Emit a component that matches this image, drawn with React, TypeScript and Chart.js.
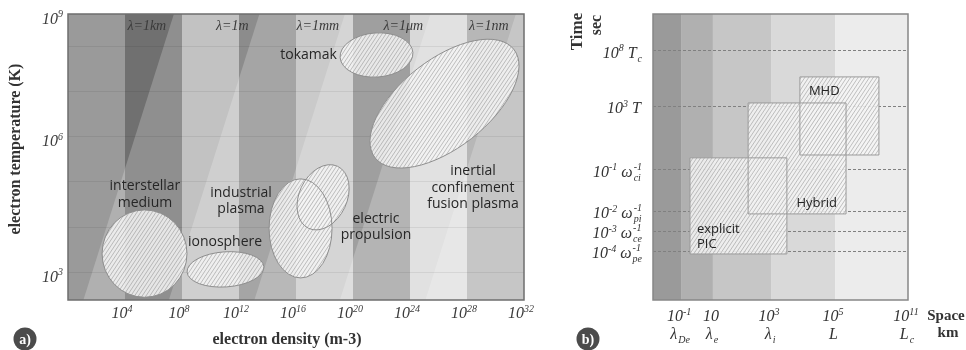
import React, { useEffect, useRef } from 'react';
import { Chart, registerables } from 'chart.js';

Chart.register(...registerables);

const SERIF = '"Liberation Serif", "Times New Roman", serif';
const SANS = '"Open Sans", "Noto Sans", sans-serif';

// ---------- panel a) electron density vs electron temperature ----------
const densityLogMin = 0; // log10 m^-3
const densityLogMax = 32;
const tempLogMin = 2.38; // log10 K
const tempLogMax = 8.73;
const densityTickExps = [4, 8, 12, 16, 20, 24, 28, 32];
const tempTickExps = [3, 6, 9];
const tempGridExps = [3, 4, 5, 6, 7, 8];

// vertical bands, one per four decades of density (grey level before Debye shading)
const densityBandEdges = [0, 4, 8, 12, 16, 20, 24, 28, 32];
const densityBandGreys = [154, 112, 177, 108, 168, 55, 177, 62];

// lines of constant Debye length: log10 T = log10 n + offset
const debyeLabels = ['λ=1km', 'λ=1m', 'λ=1mm', 'λ=1μm', 'λ=1nm'];
const debyeOffsets = [1.3, -4.7, -10.7, -16.7, -22.7];

// plasma regimes: centre (log10 n, log10 T), half extent in decades, tilt in degrees
const regimeLogN = [5.37, 11.05, 16.32, 17.9, 21.65, 26.42];
const regimeLogT = [3.41, 3.06, 3.97, 4.66, 7.82, 6.74];
const regimeHalfN = [2.98, 2.7, 2.21, 1.68, 2.56, 6.18];
const regimeHalfT = [0.97, 0.39, 1.1, 0.76, 0.49, 0.98];
const regimeTilt = [0, -4, 0, 25, -4, -38];

// regime names and where they are written (log10 n, log10 T)
const regimeNames = [
  ['interstellar', 'medium'],
  ['ionosphere'],
  ['industrial', 'plasma'],
  ['electric', 'propulsion'],
  ['tokamak'],
  ['inertial', 'confinement', 'fusion plasma'],
];
const nameLogN = [5.4, 11.02, 12.14, 21.61, 16.88, 28.42];
const nameLogT = [4.72, 3.67, 4.58, 4.0, 7.82, 4.87];

// ---------- panel b) time scales vs space scales ----------
const spaceMin = 0;
const spaceMax = 10;
const timeMin = 0;
const timeMax = 10;
const spaceTickPos = [1.1, 2.35, 4.63, 7.14, 10];
const spaceTickExp = ['-1', '', '3', '5', '11'];
const spaceTickSym = ['λ', 'λ', 'λ', 'L', 'L'];
const spaceTickSub = ['De', 'e', 'i', '', 'c'];
const spaceBandEdges = [0, 1.1, 2.35, 4.63, 7.14, 10];
const spaceBandGreys = [154, 176, 198, 217, 236];

const timeTickPos = [8.71, 6.78, 4.55, 3.11, 2.41, 1.71];
const timeTickExp = ['8', '3', '-1', '-2', '-3', '-4'];
const timeTickSym = ['T', 'T', 'ω', 'ω', 'ω', 'ω'];
const timeTickSub = ['c', '', 'ci', 'pi', 'ce', 'pe'];
const timeTickSup = ['', '', '-1', '-1', '-1', '-1'];

const modelNames = [['explicit', 'PIC'], ['Hybrid'], ['MHD']];
const modelSpaceFrom = [1.45, 3.73, 5.76];
const modelSpaceTo = [5.25, 7.57, 8.86];
const modelTimeFrom = [1.61, 3.01, 5.07];
const modelTimeTo = [4.97, 6.89, 7.8];
const modelLabelCorner = ['bottom-left', 'bottom-right', 'top-left'];

// ---------- text helpers ----------
type Seg = { text?: string; sup?: string; sub?: string; size: number; dy?: number; gap?: number };

function segWidth(ctx: CanvasRenderingContext2D, s: Seg) {
  ctx.font = `italic ${s.size}px ${SERIF}`;
  const w =
    s.text !== undefined
      ? ctx.measureText(s.text).width
      : Math.max(ctx.measureText(s.sup || '').width, ctx.measureText(s.sub || '').width);
  return w + (s.gap || 0);
}

function drawRich(
  ctx: CanvasRenderingContext2D,
  segs: Seg[],
  x: number,
  y: number,
  align: 'left' | 'center' | 'right',
  color: string
) {
  const widths = segs.map((s) => segWidth(ctx, s));
  const total = widths.reduce((a, b) => a + b, 0);
  let cx = align === 'left' ? x : align === 'right' ? x - total : x - total / 2;
  ctx.save();
  ctx.fillStyle = color;
  ctx.textAlign = 'left';
  ctx.textBaseline = 'alphabetic';
  segs.forEach((s, i) => {
    ctx.font = `italic ${s.size}px ${SERIF}`;
    if (s.text !== undefined) {
      ctx.fillText(s.text, cx, y + (s.dy || 0));
    } else {
      if (s.sup) ctx.fillText(s.sup, cx, y - 7);
      if (s.sub) ctx.fillText(s.sub, cx, y + 4);
    }
    cx += widths[i];
  });
  ctx.restore();
}

function power(exp: string, gap = 0): Seg[] {
  if (!exp) return [{ text: '10', size: 16, gap }];
  return [
    { text: '10', size: 16 },
    { text: exp, size: 10, dy: -6.5, gap },
  ];
}

function hatch(
  ctx: CanvasRenderingContext2D,
  path: () => void,
  x0: number,
  y0: number,
  x1: number,
  y1: number,
  phase: number
) {
  ctx.save();
  path();
  ctx.fillStyle = 'rgba(245,245,245,0.86)';
  ctx.fill();
  path();
  ctx.clip();
  ctx.strokeStyle = 'rgba(128,128,128,0.62)';
  ctx.lineWidth = 0.75;
  const step = 3.8;
  const run = (y1 - y0) * 0.68;
  const start = Math.floor((x0 - run) / step) * step - step + phase;
  ctx.beginPath();
  for (let x = start; x < x1 + step; x += step) {
    ctx.moveTo(x, y1 + 1);
    ctx.lineTo(x + run, y0 - 1);
  }
  ctx.stroke();
  ctx.restore();
}

function badge(ctx: CanvasRenderingContext2D, x: number, y: number, text: string) {
  ctx.save();
  ctx.fillStyle = '#4b4b4b';
  ctx.beginPath();
  ctx.arc(x, y, 11.5, 0, Math.PI * 2);
  ctx.fill();
  ctx.fillStyle = '#ffffff';
  ctx.font = `bold 14px ${SERIF}`;
  ctx.textAlign = 'center';
  ctx.textBaseline = 'middle';
  ctx.fillText(text, x, y + 1);
  ctx.restore();
}

function grey(g: number) {
  return `rgb(${g},${g},${g})`;
}

// ---------- panel a) plugins ----------
const plasmaBackground = {
  id: 'plasmaBackground',
  beforeDraw(chart: any) {
    const { ctx, chartArea: a } = chart;
    const x = chart.scales.x;
    ctx.save();
    ctx.beginPath();
    ctx.rect(a.left, a.top, a.right - a.left, a.bottom - a.top);
    ctx.clip();
    densityBandGreys.forEach((g, i) => {
      const x0 = x.getPixelForValue(10 ** densityBandEdges[i]);
      const x1 = x.getPixelForValue(10 ** densityBandEdges[i + 1]);
      ctx.fillStyle = grey(g);
      ctx.fillRect(x0, a.top, x1 - x0, a.bottom - a.top);
    });
    // everything on the short-wavelength side of each Debye line is lightened
    ctx.fillStyle = 'rgba(255,255,255,0.22)';
    debyeOffsets.forEach((off) => {
      const xt = x.getPixelForValue(10 ** (tempLogMax - off));
      const xb = x.getPixelForValue(10 ** (tempLogMin - off));
      ctx.beginPath();
      ctx.moveTo(xt, a.top);
      ctx.lineTo(Math.max(a.right, xt) + 1, a.top);
      ctx.lineTo(Math.max(a.right, xt) + 1, a.bottom);
      ctx.lineTo(xb, a.bottom);
      ctx.closePath();
      ctx.fill();
    });
    ctx.restore();
  },
};

const plasmaForeground = {
  id: 'plasmaForeground',
  afterDraw(chart: any) {
    const { ctx, chartArea: a } = chart;
    const x = chart.scales.x;
    const y = chart.scales.y;

    // regime ellipses
    const shapes = regimeLogN.map((ln, i) => {
      const cx = x.getPixelForValue(10 ** ln);
      const rx = x.getPixelForValue(10 ** (ln + regimeHalfN[i])) - cx;
      const cy = y.getPixelForValue(10 ** regimeLogT[i]);
      const ry = cy - y.getPixelForValue(10 ** (regimeLogT[i] + regimeHalfT[i]));
      const rot = (regimeTilt[i] * Math.PI) / 180;
      const path = () => {
        ctx.beginPath();
        ctx.ellipse(cx, cy, rx, ry, rot, 0, Math.PI * 2);
      };
      return { cx, cy, r: Math.max(rx, ry), path };
    });
    shapes.forEach((s, i) => hatch(ctx, s.path, s.cx - s.r, s.cy - s.r, s.cx + s.r, s.cy + s.r, (i * 1.3) % 3.8));
    ctx.save();
    ctx.strokeStyle = '#8e8e8e';
    ctx.lineWidth = 1;
    shapes.forEach((s) => {
      s.path();
      ctx.stroke();
    });
    ctx.restore();

    // Debye length labels along the top
    ctx.save();
    ctx.fillStyle = '#3a3a3a';
    ctx.font = `italic 14px ${SERIF}`;
    ctx.textAlign = 'center';
    ctx.textBaseline = 'alphabetic';
    debyeLabels.forEach((t, i) => {
      const lx = x.getPixelForValue(10 ** (tempLogMax - debyeOffsets[i] - 1.9));
      ctx.fillText(t, lx, a.top + 16);
    });
    ctx.restore();

    // regime names
    ctx.save();
    ctx.fillStyle = '#262626';
    ctx.font = `14px ${SANS}`;
    ctx.textAlign = 'center';
    ctx.textBaseline = 'middle';
    regimeNames.forEach((lines, i) => {
      const lx = x.getPixelForValue(10 ** nameLogN[i]);
      const ly = y.getPixelForValue(10 ** nameLogT[i]);
      const lh = 16.5;
      lines.forEach((t, j) => ctx.fillText(t, lx, ly + (j - (lines.length - 1) / 2) * lh));
    });
    ctx.restore();

    // frame
    ctx.save();
    ctx.strokeStyle = '#6e6e6e';
    ctx.lineWidth = 1.5;
    ctx.strokeRect(a.left, a.top, a.right - a.left, a.bottom - a.top);
    ctx.restore();

    // tick labels
    densityTickExps.forEach((e) => {
      const px = x.getPixelForValue(10 ** e);
      drawRich(ctx, power(String(e)), px - 3, a.bottom + 18, 'center', '#3c3c3c');
    });
    tempTickExps.forEach((e) => {
      const py = Math.max(y.getPixelForValue(10 ** e), a.top);
      drawRich(ctx, power(String(e)), a.left - 5, py + 9.5, 'right', '#3c3c3c');
    });

    // axis titles
    ctx.save();
    ctx.fillStyle = '#333333';
    ctx.font = `bold 16px ${SERIF}`;
    ctx.textAlign = 'center';
    ctx.textBaseline = 'alphabetic';
    ctx.fillText('electron density (m-3)', 287, 344);
    ctx.translate(16, 149);
    ctx.rotate(-Math.PI / 2);
    ctx.textBaseline = 'middle';
    ctx.fillText('electron temperature (K)', 0, 0);
    ctx.restore();

    badge(ctx, 25, 339, 'a)');
  },
};

// ---------- panel b) plugins ----------
const scaleBackground = {
  id: 'scaleBackground',
  beforeDraw(chart: any) {
    const { ctx, chartArea: a } = chart;
    const x = chart.scales.x;
    ctx.save();
    spaceBandGreys.forEach((g, i) => {
      const x0 = x.getPixelForValue(spaceBandEdges[i]);
      const x1 = x.getPixelForValue(spaceBandEdges[i + 1]);
      ctx.fillStyle = grey(g);
      ctx.fillRect(x0, a.top, x1 - x0, a.bottom - a.top);
    });
    ctx.restore();
  },
};

const scaleForeground = {
  id: 'scaleForeground',
  afterDraw(chart: any) {
    const { ctx, chartArea: a } = chart;
    const x = chart.scales.x;
    const y = chart.scales.y;

    const boxes = modelNames.map((_, i) => {
      const x0 = x.getPixelForValue(modelSpaceFrom[i]);
      const x1 = x.getPixelForValue(modelSpaceTo[i]);
      const y0 = y.getPixelForValue(modelTimeTo[i]);
      const y1 = y.getPixelForValue(modelTimeFrom[i]);
      const path = () => {
        ctx.beginPath();
        ctx.rect(x0, y0, x1 - x0, y1 - y0);
      };
      return { x0, x1, y0, y1, path };
    });
    boxes.forEach((b, i) => hatch(ctx, b.path, b.x0, b.y0, b.x1, b.y1, (i * 1.4) % 3.8));
    ctx.save();
    ctx.strokeStyle = '#9a9a9a';
    ctx.lineWidth = 1;
    boxes.forEach((b) => {
      b.path();
      ctx.stroke();
    });
    ctx.restore();

    // model names
    ctx.save();
    ctx.fillStyle = '#222222';
    ctx.font = `13px ${SANS}`;
    ctx.textBaseline = 'alphabetic';
    boxes.forEach((b, i) => {
      const lines = modelNames[i];
      const corner = modelLabelCorner[i];
      const lh = 15;
      lines.forEach((t, j) => {
        if (corner === 'top-left') {
          ctx.textAlign = 'left';
          ctx.fillText(t, b.x0 + 9, b.y0 + 18 + j * lh);
        } else if (corner === 'bottom-left') {
          ctx.textAlign = 'left';
          ctx.fillText(t, b.x0 + 7, b.y1 - 6 - (lines.length - 1 - j) * lh);
        } else {
          ctx.textAlign = 'right';
          ctx.fillText(t, b.x1 - 9, b.y1 - 7 - (lines.length - 1 - j) * lh);
        }
      });
    });
    ctx.restore();

    // frame
    ctx.save();
    ctx.strokeStyle = '#878787';
    ctx.lineWidth = 1.5;
    ctx.strokeRect(a.left, a.top, a.right - a.left, a.bottom - a.top);
    ctx.restore();

    // time scale labels
    timeTickPos.forEach((v, i) => {
      const py = y.getPixelForValue(v);
      const segs: Seg[] = [
        ...power(timeTickExp[i], 4),
        { text: timeTickSym[i], size: 16, gap: 1 },
      ];
      if (timeTickSub[i] || timeTickSup[i]) segs.push({ sup: timeTickSup[i], sub: timeTickSub[i], size: 10 });
      drawRich(ctx, segs, a.left - 11, py + 7, 'right', '#333333');
    });

    // space scale labels
    spaceTickPos.forEach((v, i) => {
      const px = x.getPixelForValue(v);
      drawRich(ctx, power(spaceTickExp[i]), px - 2, a.bottom + 21, 'center', '#333333');
      const segs: Seg[] = [{ text: spaceTickSym[i], size: 16, gap: 1 }];
      if (spaceTickSub[i]) segs.push({ sub: spaceTickSub[i], size: 10 });
      drawRich(ctx, segs, px - 1, a.bottom + 39, 'center', '#333333');
    });

    // axis titles
    ctx.save();
    ctx.fillStyle = '#333333';
    ctx.textAlign = 'center';
    ctx.textBaseline = 'alphabetic';
    ctx.font = `bold 15px ${SERIF}`;
    ctx.fillText('Space', a.right + 38, a.bottom + 20);
    ctx.fillText('km', a.right + 40, a.bottom + 37);
    ctx.restore();

    ctx.save();
    ctx.fillStyle = '#333333';
    ctx.textAlign = 'center';
    ctx.textBaseline = 'middle';
    ctx.translate(18, 31.5);
    ctx.rotate(-Math.PI / 2);
    ctx.font = `bold 17px ${SERIF}`;
    ctx.fillText('Time', 0, 0);
    ctx.restore();
    ctx.save();
    ctx.fillStyle = '#333333';
    ctx.textAlign = 'center';
    ctx.textBaseline = 'middle';
    ctx.translate(37, 25);
    ctx.rotate(-Math.PI / 2);
    ctx.font = `bold 16px ${SERIF}`;
    ctx.fillText('sec', 0, 0);
    ctx.restore();

    badge(ctx, 28, 339, 'b)');
  },
};

function PlasmaChart() {
  const ref = useRef<HTMLCanvasElement>(null);
  useEffect(() => {
    const chart = new Chart(ref.current as HTMLCanvasElement, {
      type: 'scatter',
      data: { datasets: [] },
      options: {
        animation: false,
        responsive: false,
        maintainAspectRatio: false,
        events: [],
        layout: { padding: { left: 68, top: 14, right: 36, bottom: 50 } },
        plugins: { legend: { display: false }, tooltip: { enabled: false } },
        scales: {
          x: {
            type: 'logarithmic',
            display: false,
            min: 10 ** densityLogMin,
            max: 10 ** densityLogMax,
          },
          y: {
            type: 'logarithmic',
            min: 10 ** tempLogMin,
            max: 10 ** tempLogMax,
            afterFit: (s: any) => {
              s.width = 0;
            },
            afterBuildTicks: (s: any) => {
              s.ticks = tempGridExps.map((e) => ({ value: 10 ** e }));
            },
            ticks: { display: false },
            border: { display: false },
            grid: { color: 'rgba(0,0,0,0.07)', lineWidth: 1, drawTicks: false },
          },
        },
      } as any,
      plugins: [plasmaBackground, plasmaForeground],
    });
    return () => chart.destroy();
  }, []);
  return <canvas ref={ref} width={560} height={350} style={{ position: 'absolute', left: 0, top: 0 }} />;
}

function ScalesChart() {
  const ref = useRef<HTMLCanvasElement>(null);
  useEffect(() => {
    const chart = new Chart(ref.current as HTMLCanvasElement, {
      type: 'scatter',
      data: { datasets: [] },
      options: {
        animation: false,
        responsive: false,
        maintainAspectRatio: false,
        events: [],
        layout: { padding: { left: 93, top: 14, right: 58, bottom: 50 } },
        plugins: { legend: { display: false }, tooltip: { enabled: false } },
        scales: {
          x: { type: 'linear', display: false, min: spaceMin, max: spaceMax },
          y: {
            type: 'linear',
            min: timeMin,
            max: timeMax,
            afterFit: (s: any) => {
              s.width = 0;
            },
            afterBuildTicks: (s: any) => {
              s.ticks = timeTickPos.map((v) => ({ value: v }));
            },
            ticks: { display: false },
            border: { display: false, dash: [3, 2] },
            grid: { color: '#808080', lineWidth: 1, drawTicks: false },
          },
        },
      } as any,
      plugins: [scaleBackground, scaleForeground],
    });
    return () => chart.destroy();
  }, []);
  return <canvas ref={ref} width={406} height={350} style={{ position: 'absolute', left: 560, top: 0 }} />;
}

export default function App() {
  return (
    <div style={{ position: 'absolute', left: 0, top: 0, width: 966, height: 350, background: '#ffffff' }}>
      <PlasmaChart />
      <ScalesChart />
    </div>
  );
}
